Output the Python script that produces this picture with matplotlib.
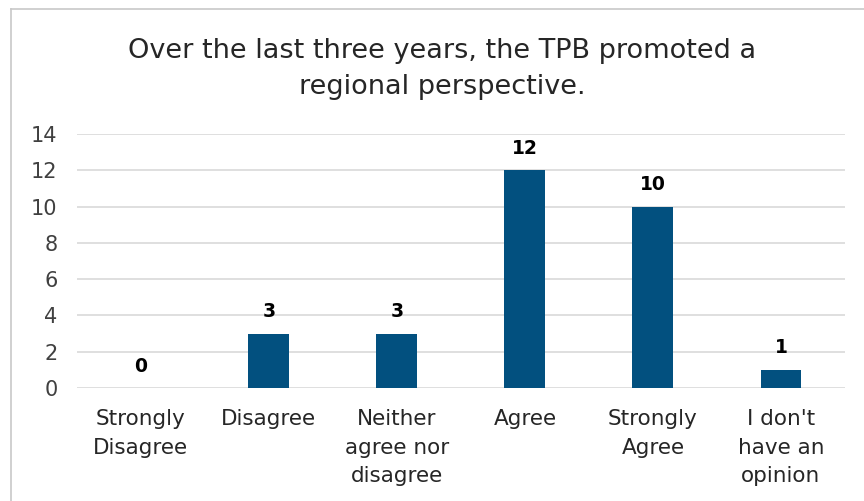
import matplotlib.pyplot as plt
from matplotlib.lines import Line2D

categories = ["Strongly\nDisagree", "Disagree", "Neither\nagree nor\ndisagree",
              "Agree", "Strongly\nAgree", "I don't\nhave an\nopinion"]
counts = [0, 3, 3, 12, 10, 1]
yticks = [0, 2, 4, 6, 8, 10, 12, 14]
title = "Over the last three years, the TPB promoted a\nregional perspective."

bar_color = "#02507f"
grid_color = "#d9d9d9"

fig = plt.figure(figsize=(8.64, 5.01), dpi=100)
ax = fig.add_axes([0.089, 0.2255, 0.889, 0.507])

x = list(range(len(categories)))
ax.bar(x, counts, width=0.32, color=bar_color, zorder=3)
for xi, v in zip(x, counts):
    ax.annotate(str(v), (xi, v), xytext=(0, 9), textcoords="offset points",
                ha="center", va="bottom", fontsize=13.5, fontweight="bold")

ax.set_xlim(-0.5, len(categories) - 0.5)
ax.set_ylim(0, 14)
ax.set_yticks(yticks)
ax.yaxis.grid(True, color=grid_color, linewidth=1.2, zorder=0)
ax.set_xticks(x)
ax.set_xticklabels(categories, fontsize=15.5, color="#262626", linespacing=1.55)
ax.tick_params(axis="y", labelsize=15, labelcolor="#404040", length=0, pad=14)
ax.tick_params(axis="x", length=0, pad=15)
for s in ax.spines.values():
    s.set_visible(False)

fig.text(0.512, 0.863, title, ha="center", va="center", fontsize=19.5,
         color="#262626", linespacing=1.5)

# outer chart frame (cropped at right and bottom)
fig.add_artist(Line2D([11 / 864, 11 / 864], [0, 1 - 9 / 501], color="#c8c8c8", lw=1.2))
fig.add_artist(Line2D([11 / 864, 1], [1 - 9 / 501, 1 - 9 / 501], color="#c8c8c8", lw=1.2))

fig.savefig("out.png", dpi=100)
